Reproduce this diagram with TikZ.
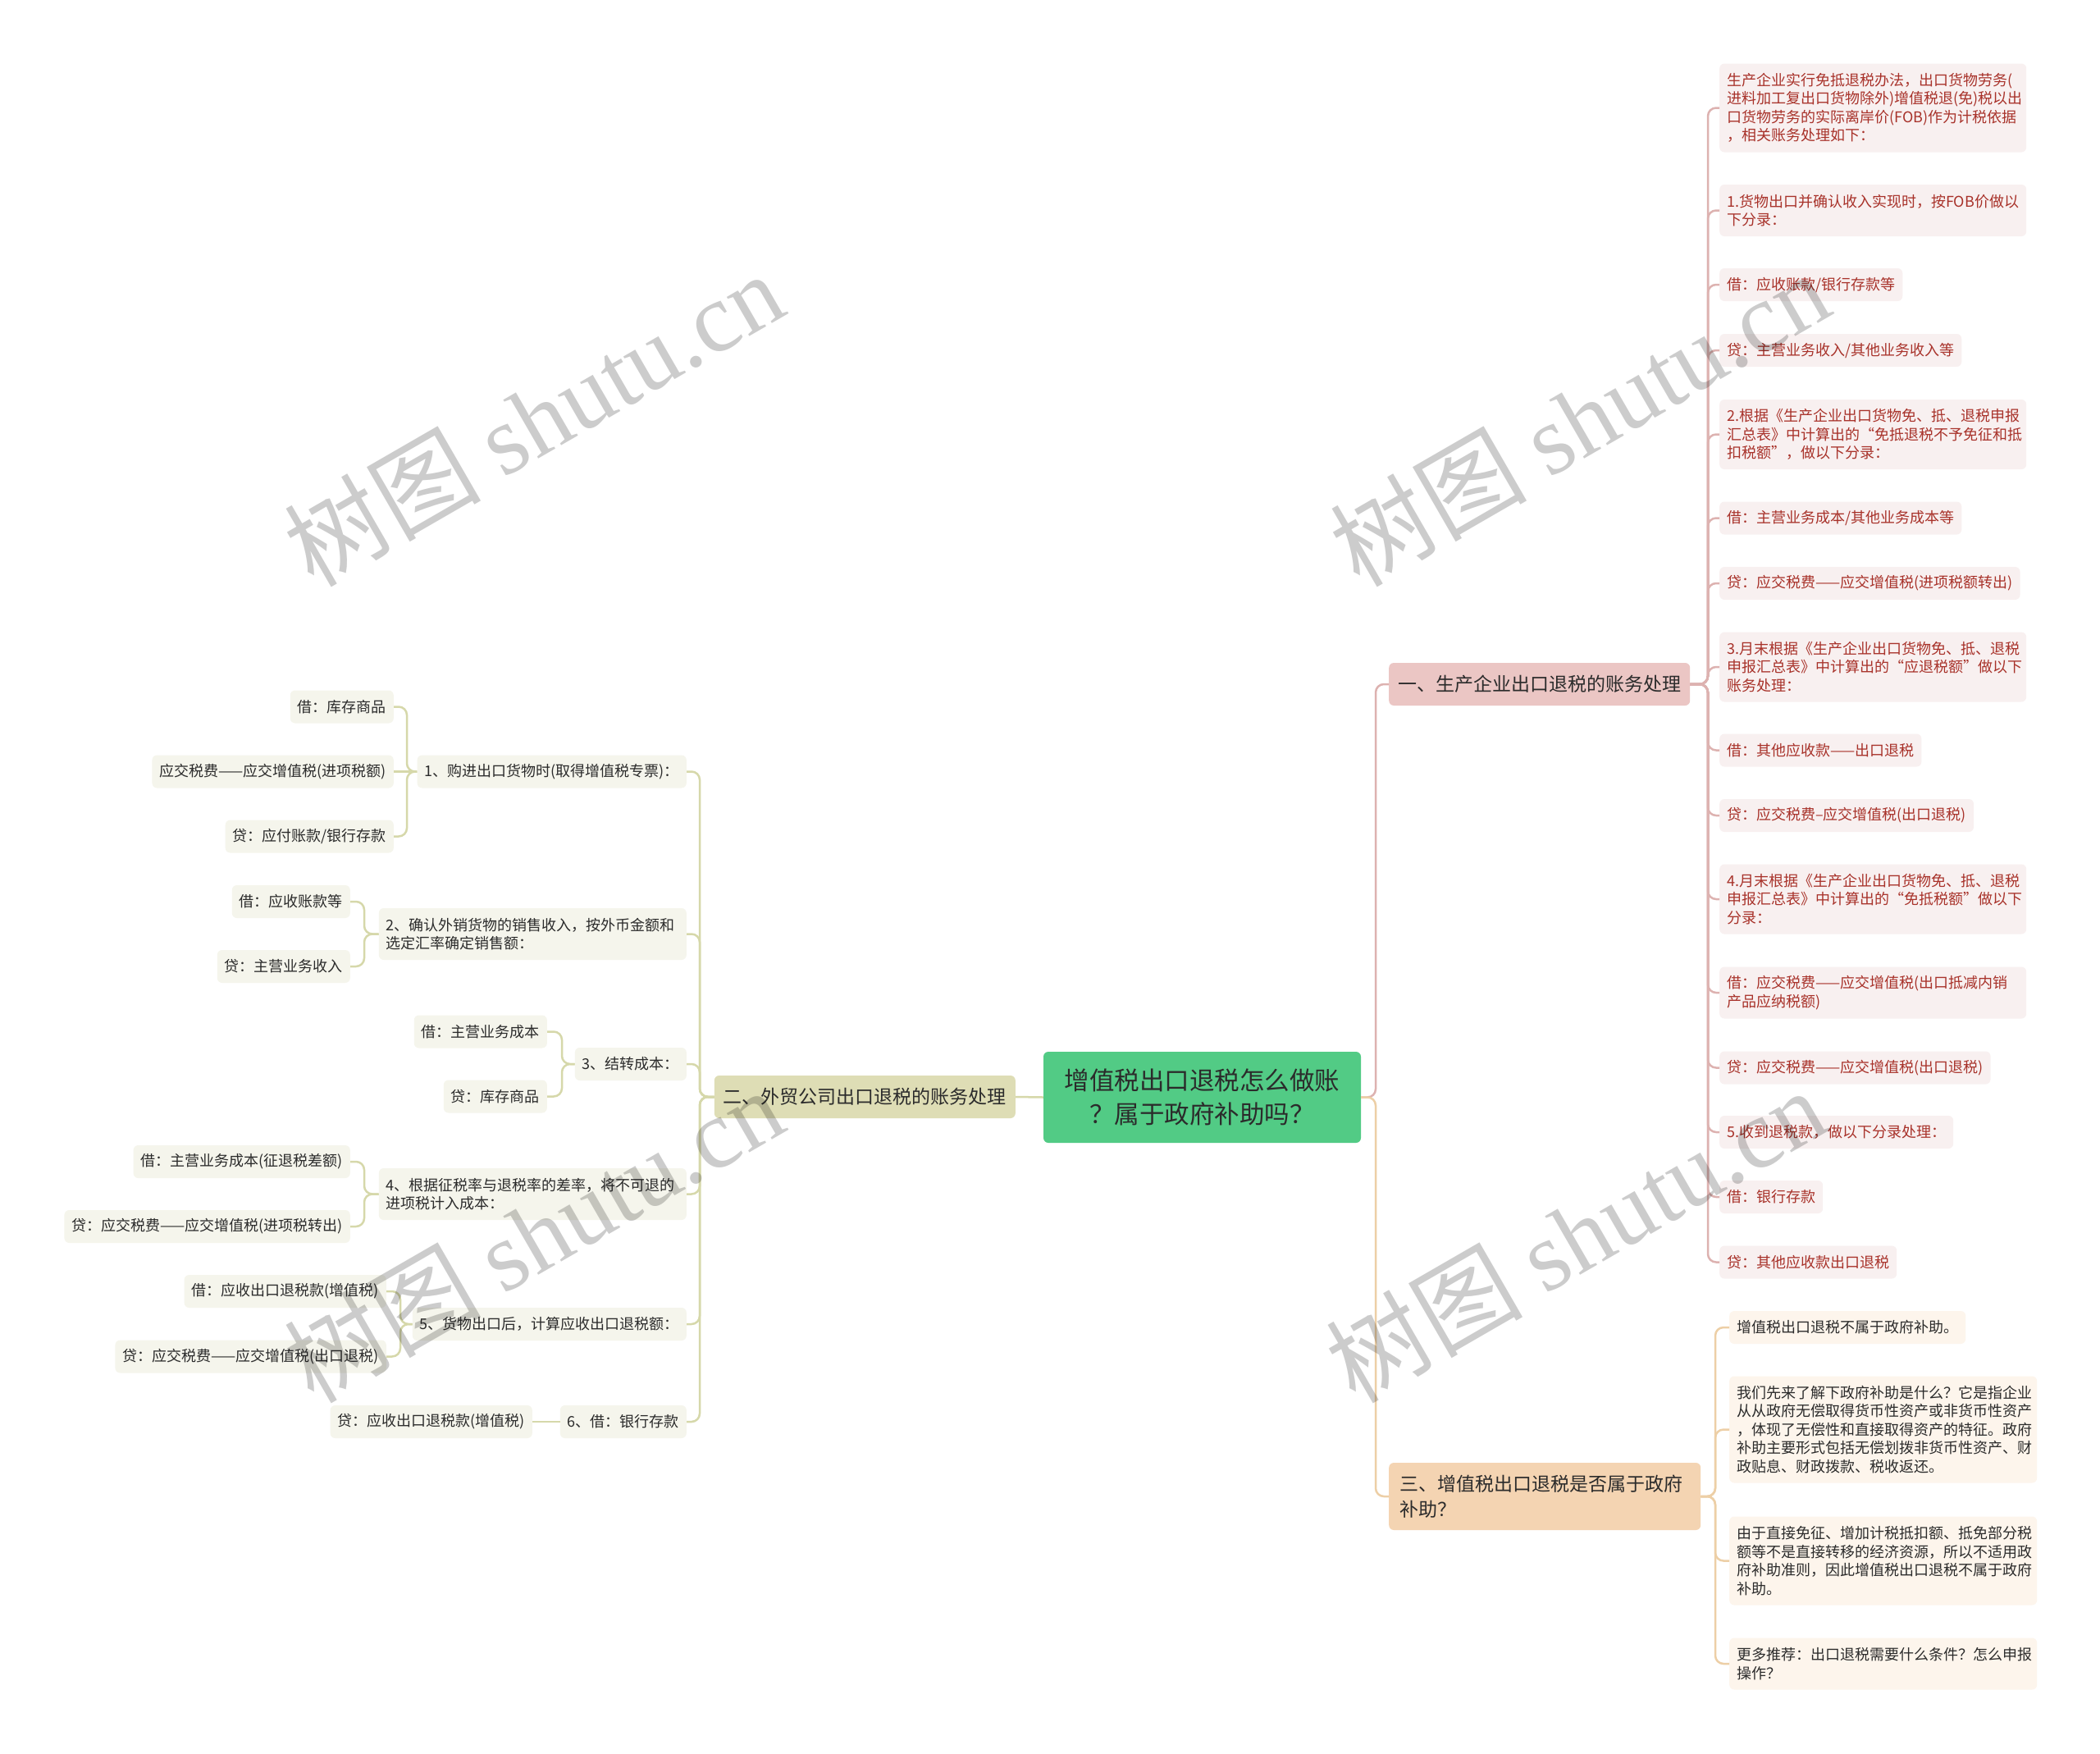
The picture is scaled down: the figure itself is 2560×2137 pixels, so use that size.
\documentclass[tikz,border=0pt]{standalone}
\usepackage{fontspec}
\setmainfont{Noto Sans CJK SC}
\newfontfamily\wmlatin{Liberation Serif}
\newfontfamily\wmcjk{Noto Sans CJK SC}
\definecolor{rootfill}{HTML}{52CB85}
\definecolor{onefill}{HTML}{EBC6C4}
\definecolor{twofill}{HTML}{DEDDB5}
\definecolor{threefill}{HTML}{F4D4B2}
\definecolor{oneleaf}{HTML}{F8F0F0}
\definecolor{twoleaf}{HTML}{F5F5EC}
\definecolor{threeleaf}{HTML}{FDF5EC}
\definecolor{onetext}{HTML}{A8322A}
\definecolor{darktext}{HTML}{2B2B2B}
\definecolor{oneline}{HTML}{DDB2B0}
\definecolor{twoline}{HTML}{D6D8AA}
\definecolor{threeline}{HTML}{EDCFA6}
\begin{document}
\begin{tikzpicture}[x=1pt,y=-1pt,
  box/.style={rectangle, rounded corners=6pt, inner xsep=9pt, inner ysep=0pt},
  leaf/.style={box, font=\fontsize{18}{22.5}\selectfont, minimum height=40pt},
  lA/.style={leaf, fill=oneleaf, text=onetext, anchor=west},
  lB/.style={leaf, fill=twoleaf, text=darktext, anchor=east},
  lC/.style={leaf, fill=threeleaf, text=darktext, anchor=west},
  wide/.style={text width=#1, align=left},
  hh2/.style={minimum height=63pt},
  hh3/.style={minimum height=85pt},
  hh4/.style={minimum height=108pt},
  hh5/.style={minimum height=130pt},
  lvone/.style={box, font=\fontsize{23}{31}\selectfont, text=darktext, inner xsep=11pt, minimum height=52pt},
  conn/.style={line width=2.5pt, rounded corners=10pt},
  wm/.style={text=black, opacity=0.2, font=\fontsize{120}{120}\selectfont, rotate=30}
]
\useasboundingbox (0,0) rectangle (2560,2137);
\fill[white] (0,0) rectangle (2560,2137);

% trunk coordinates
\coordinate (tR) at (1677,0);
\coordinate (tA) at (2082,0);
\coordinate (tC) at (2091,0);
\coordinate (tL) at (853,0);
\coordinate (tB1) at (496,0);
\coordinate (tB2) at (444,0);
\coordinate (tB3) at (685,0);
\coordinate (tB4) at (444,0);
\coordinate (tB5) at (488,0);

% root
\node[box, fill=rootfill, text=darktext, minimum width=387pt, minimum height=111pt,
      align=center, font=\fontsize{30.5}{41}\selectfont] (root) at (1465.5,1337.5)
  {增值税出口退税怎么做账\\？属于政府补助吗？};

% level one
\node[lvone, fill=onefill, anchor=west] (n1) at (1693,834) {一、生产企业出口退税的账务处理};
\node[lvone, fill=twofill, anchor=east] (n2) at (1238,1337) {二、外贸公司出口退税的账务处理};
\node[lvone, fill=threefill, anchor=west, minimum height=82pt, text width=354pt, align=left, inner xsep=13pt] (n3) at (1693,1824)
  {三、增值税出口退税是否属于政府\\补助？};

% branch one leaves
\node[lA, hh4, wide=356pt] (a1) at (2096,131.5) {生产企业实行免抵退税办法，出口货物劳务(\\进料加工复出口货物除外)增值税退(免)税以出\\口货物劳务的实际离岸价(FOB)作为计税依据\\，相关账务处理如下：};
\node[lA, hh2, wide=356pt] (a2) at (2096,256.5) {1.货物出口并确认收入实现时，按FOB价做以\\下分录：};
\node[lA] (a3) at (2096,347) {借：应收账款/银行存款等};
\node[lA] (a4) at (2096,427) {贷：主营业务收入/其他业务收入等};
\node[lA, hh3, wide=356pt] (a5) at (2096,529.5) {2.根据《生产企业出口货物免、抵、退税申报\\汇总表》中计算出的“免抵退税不予免征和抵\\扣税额”，做以下分录：};
\node[lA] (a6) at (2096,631.5) {借：主营业务成本/其他业务成本等};
\node[lA] (a7) at (2096,711) {贷：应交税费——应交增值税(进项税额转出)};
\node[lA, hh3, wide=356pt] (a8) at (2096,813) {3.月末根据《生产企业出口货物免、抵、退税\\申报汇总表》中计算出的“应退税额”做以下\\账务处理：};
\node[lA] (a9) at (2096,914.5) {借：其他应收款——出口退税};
\node[lA] (a10) at (2096,994) {贷：应交税费–应交增值税(出口退税)};
\node[lA, hh3, wide=356pt] (a11) at (2096,1096) {4.月末根据《生产企业出口货物免、抵、退税\\申报汇总表》中计算出的“免抵税额”做以下\\分录：};
\node[lA, hh2, wide=356pt] (a12) at (2096,1210) {借：应交税费——应交增值税(出口抵减内销\\产品应纳税额)};
\node[lA] (a13) at (2096,1301.5) {贷：应交税费——应交增值税(出口退税)};
\node[lA] (a14) at (2096,1380) {5.收到退税款，做以下分录处理：};
\node[lA] (a15) at (2096,1459) {借：银行存款};
\node[lA] (a16) at (2096,1538.5) {贷：其他应收款出口退税};

% branch three leaves
\node[lC] (c1) at (2108,1618) {增值税出口退税不属于政府补助。};
\node[lC, hh5, wide=357pt] (c2) at (2108,1742.5) {我们先来了解下政府补助是什么？它是指企业\\从从政府无偿取得货币性资产或非货币性资产\\，体现了无偿性和直接取得资产的特征。政府\\补助主要形式包括无偿划拨非货币性资产、财\\政贴息、财政拨款、税收返还。};
\node[lC, hh4, wide=357pt] (c3) at (2108,1902.5) {由于直接免征、增加计税抵扣额、抵免部分税\\额等不是直接转移的经济资源，所以不适用政\\府补助准则，因此增值税出口退税不属于政府\\补助。};
\node[lC, hh2, wide=357pt] (c4) at (2108,2028) {更多推荐：出口退税需要什么条件？怎么申报\\操作？};

% branch two items
\node[lB] (b1) at (837,940.5) {1、购进出口货物时(取得增值税专票)：};
\node[lB, hh2, wide=357pt] (b2) at (837,1138.5) {2、确认外销货物的销售收入，按外币金额和\\选定汇率确定销售额：};
\node[lB] (b3) at (837,1297) {3、结转成本：};
\node[lB, hh2, wide=357pt] (b4) at (837,1455.5) {4、根据征税率与退税率的差率，将不可退的\\进项税计入成本：};
\node[lB] (b5) at (837,1614) {5、货物出口后，计算应收出口退税额：};
\node[lB] (b6) at (837,1733) {6、借：银行存款};

% branch two leaves
\node[lB] (b1a) at (480,861.5) {借：库存商品};
\node[lB] (b1b) at (480,940.5) {应交税费——应交增值税(进项税额)};
\node[lB] (b1c) at (480,1019.5) {贷：应付账款/银行存款};
\node[lB] (b2a) at (427,1099) {借：应收账款等};
\node[lB] (b2b) at (427,1178) {贷：主营业务收入};
\node[lB] (b3a) at (667,1257.5) {借：主营业务成本};
\node[lB] (b3b) at (667,1336.5) {贷：库存商品};
\node[lB] (b4a) at (427,1416) {借：主营业务成本(征退税差额)};
\node[lB] (b4b) at (427,1495) {贷：应交税费——应交增值税(进项税转出)};
\node[lB] (b5a) at (471,1574) {借：应收出口退税款(增值税)};
\node[lB] (b5b) at (471,1653.5) {贷：应交税费——应交增值税(出口退税)};
\node[lB] (b6a) at (649,1733) {贷：应收出口退税款(增值税)};

% connectors: root to level one
\draw[conn, oneline] (root.east) -- (root.east -| tR) -- (n1.west -| tR) -- (n1.west);
\draw[conn, threeline] (root.east) -- (root.east -| tR) -- (n3.west -| tR) -- (n3.west);
\draw[conn, twoline] (root.west) -- (n2.east);

% branch one
\foreach \c in {a1,a2,a3,a4,a5,a6,a7,a8,a9,a10,a11,a12,a13,a14,a15,a16}
  \draw[conn, oneline] (n1.east) -- (n1.east -| tA) -- (\c.west -| tA) -- (\c.west);
% branch three
\foreach \c in {c1,c2,c3,c4}
  \draw[conn, threeline] (n3.east) -- (n3.east -| tC) -- (\c.west -| tC) -- (\c.west);
% branch two
\foreach \c in {b1,b2,b3,b4,b5,b6}
  \draw[conn, twoline] (n2.west) -- (n2.west -| tL) -- (\c.east -| tL) -- (\c.east);
\foreach \c in {b1a,b1c}
  \draw[conn, twoline] (b1.west) -- (b1.west -| tB1) -- (\c.east -| tB1) -- (\c.east);
\draw[conn, twoline] (b1.west) -- (b1b.east);
\foreach \c in {b2a,b2b}
  \draw[conn, twoline] (b2.west) -- (b2.west -| tB2) -- (\c.east -| tB2) -- (\c.east);
\foreach \c in {b3a,b3b}
  \draw[conn, twoline] (b3.west) -- (b3.west -| tB3) -- (\c.east -| tB3) -- (\c.east);
\foreach \c in {b4a,b4b}
  \draw[conn, twoline] (b4.west) -- (b4.west -| tB4) -- (\c.east -| tB4) -- (\c.east);
\foreach \c in {b5a,b5b}
  \draw[conn, twoline] (b5.west) -- (b5.west -| tB5) -- (\c.east -| tB5) -- (\c.east);
\draw[conn, twoline] (b6.west) -- (b6a.east);

% watermarks
\node[wm] (w1) at (650,510) {\wmcjk 树图 \wmlatin shutu.cn};
\node[wm] (w2) at (1925,510) {\wmcjk 树图 \wmlatin shutu.cn};
\node[wm] (w3) at (650,1505) {\wmcjk 树图 \wmlatin shutu.cn};
\node[wm] (w4) at (1920,1505) {\wmcjk 树图 \wmlatin shutu.cn};
\end{tikzpicture}
\end{document}
